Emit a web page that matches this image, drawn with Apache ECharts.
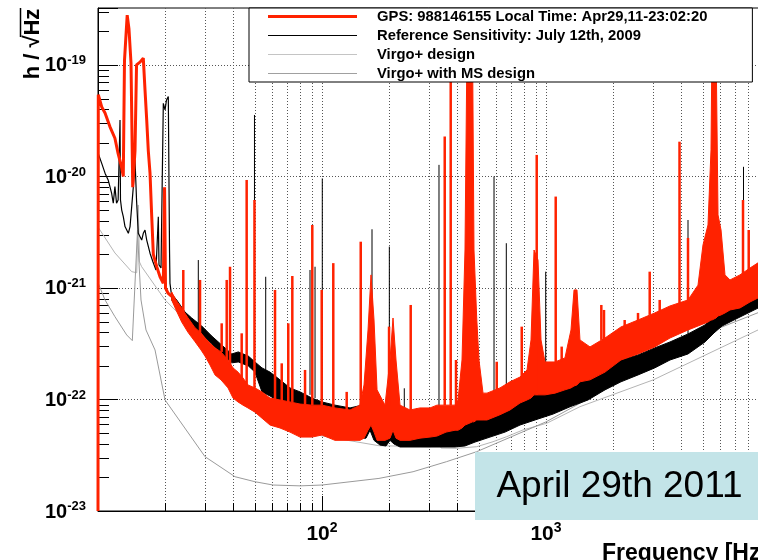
<!DOCTYPE html>
<html>
<head>
<meta charset="utf-8">
<title>Virgo+ sensitivity</title>
<script src="https://cdn.jsdelivr.net/npm/echarts@6.0.0/dist/echarts.min.js"></script>
<style>
    html, body { margin: 0; padding: 0; background: #fff; }
    #chart { width: 758px; height: 560px; }
</style>
</head>
<body>
<div id="chart"></div>
<script>
const FONT = 'Liberation Sans';

const redName = 'GPS: 988146155 Local Time: Apr29,11-23:02:20';
const refName = 'Reference Sensitivity: July 12th, 2009';
const virgoName = 'Virgo+ design';
const msName = 'Virgo+ with MS design';

// axis limits (Hz, strain/sqrt(Hz))
const freqLimits = [10, 10000];
const ampLimits = [1e-23, 3.24e-19];
const xLabelExps = [2, 3];
const yLabelExps = [-23, -22, -21, -20, -19];
const xMinorTicks = [20, 30, 40, 50, 60, 70, 80, 90, 200, 300, 400, 500, 600, 700, 800, 900,
    2000, 3000, 4000, 5000, 6000, 7000, 8000, 9000];
const yMinorTicks = [
    2e-23, 3e-23, 4e-23, 5e-23, 6e-23, 7e-23, 8e-23, 9e-23,
    2e-22, 3e-22, 4e-22, 5e-22, 6e-22, 7e-22, 8e-22, 9e-22,
    2e-21, 3e-21, 4e-21, 5e-21, 6e-21, 7e-21, 8e-21, 9e-21,
    2e-20, 3e-20, 4e-20, 5e-20, 6e-20, 7e-20, 8e-20, 9e-20,
    2e-19, 3e-19];

// GPS 988146155 spectrum, low frequency part
const redLowFreq = [10, 10.03, 10.39, 10.75, 11.3, 11.9, 12.3, 12.76, 12.97, 13.13, 13.5, 13.75, 14.04, 14.29,
    14.63, 14.86, 15.4, 15.93, 16.21, 16.5, 16.77, 17.07, 17.37, 17.66, 18.29, 18.92, 19.57, 19.82, 20.02, 20.54, 21.33];
const redLowAmp = [1e-23, 5.4e-20, 4.2e-20, 3.7e-20, 2.8e-20, 2.2e-20, 1.6e-20, 1.2e-20, 1.0e-20, 1.1e-19, 2.8e-19, 2.1e-19, 1.04e-19, 8.0e-21,
    1.7e-20, 1.0e-19, 1.06e-19, 1.15e-19, 6.0e-20, 3.2e-20, 1.7e-20, 1.07e-20, 4.4e-21, 2.0e-21, 1.55e-21, 1.26e-21, 1.1e-21, 8.0e-21, 1.0e-21, 9.0e-22, 8.4e-22];
// noise band (upper / lower edge)
const redBandFreq = [21.33, 22.3, 23.64, 25.22, 27.1, 28.83, 30.04, 31.62, 33.3, 35.4, 38.06, 40.07, 42.17, 44.4, 46.7,
    50.2, 53.96, 58.6, 64.94, 71.95, 79.8, 90.2, 100, 114.3, 133.4, 147.8, 154, 160.5, 165.5, 170.7,
    176.1, 191.1, 201.2, 207.5, 214, 223, 247, 273.8, 303.5, 326.1, 357.8, 392.5, 404.8, 421.7, 434.9,
    444.1, 469.8, 477, 490.5, 502.2, 523.4, 545.3, 623.2, 690.8, 765.7, 822.8, 857.2, 884.2, 921.2, 950,
    989.7, 1097, 1215, 1293, 1334, 1375, 1418, 1572, 1834, 2161, 2575, 3057, 3578, 4305, 4771,
    5022, 5287, 5453, 5510, 5741, 5861, 6045, 6297, 6629, 7347, 8143, 8840, 10000];
const redBandHi = [9.2e-22, 7.8e-22, 6.6e-22, 5.4e-22, 4.4e-22, 3.95e-22, 3.56e-22, 3.2e-22, 2.9e-22, 2.67e-22, 2.26e-22, 1.92e-22, 1.76e-22, 1.56e-22, 1.35e-22,
    1.27e-22, 1.17e-22, 1.03e-22, 9.9e-23, 9.5e-23, 9.1e-23, 8.9e-23, 8.9e-23, 8.4e-23, 8.05e-23, 8.9e-23, 1.35e-22, 4.2e-22, 1.31e-21, 5.16e-22,
    1.22e-22, 8.9e-23, 2.26e-22, 5.38e-22, 2.26e-22, 8.9e-23, 8.05e-23, 8.4e-23, 8.4e-23, 8.9e-23, 8.9e-23, 8.9e-23, 9.9e-23, 2.26e-22, 2.19e-21,
    1.7e-19, 1.7e-19, 2.19e-21, 5.38e-22, 2.26e-22, 1.14e-22, 1.14e-22, 1.27e-22, 1.44e-22, 1.59e-22, 1.84e-22, 3.42e-22, 2.19e-21, 1.78e-21, 3.42e-22,
    2.17e-22, 2.17e-22, 2.36e-22, 4.2e-22, 9.6e-22, 9.6e-22, 3.42e-22, 2.96e-22, 3.56e-22, 4.47e-22, 5.16e-22, 5.97e-22, 6.9e-22, 7.81e-22, 1.06e-21,
    2.43e-21, 3.67e-21, 1.73e-20, 1.7e-19, 1.7e-19, 4.52e-21, 3.31e-21, 1.31e-21, 1.18e-21, 1.31e-21, 1.51e-21, 1.68e-21, 1.86e-21];
const redBandLo = [7.8e-22, 6.35e-22, 4.95e-22, 4.0e-22, 3.3e-22, 2.78e-22, 2.45e-22, 2.04e-22, 1.66e-22, 1.5e-22, 1.27e-22, 1.03e-22, 9.5e-23, 8.9e-23, 8.4e-23,
    7.7e-23, 6.8e-23, 5.9e-23, 5.55e-23, 5.1e-23, 4.6e-23, 4.6e-23, 4.8e-23, 4.3e-23, 4.3e-23, 4.3e-23, 4.5e-23, 5.3e-23, 5.9e-23, 5.1e-23,
    4.3e-23, 4.3e-23, 4.5e-23, 5.3e-23, 4.5e-23, 4.3e-23, 4.3e-23, 4.5e-23, 4.6e-23, 4.7e-23, 5.1e-23, 5.3e-23, 5.3e-23, 5.55e-23, 5.9e-23,
    6.0e-23, 6.3e-23, 6.3e-23, 6.55e-23, 6.55e-23, 6.55e-23, 6.55e-23, 7.3e-23, 8.05e-23, 9.3e-23, 9.9e-23, 1.03e-22, 1.1e-22, 1.1e-22, 1.1e-22,
    1.1e-22, 1.14e-22, 1.22e-22, 1.27e-22, 1.32e-22, 1.35e-22, 1.44e-22, 1.5e-22, 1.76e-22, 2.26e-22, 2.56e-22, 2.96e-22, 3.56e-22, 4.2e-22, 4.56e-22,
    4.75e-22, 4.95e-22, 5.16e-22, 5.16e-22, 5.38e-22, 5.61e-22, 5.73e-22, 5.97e-22, 6.35e-22, 6.62e-22, 7.49e-22, 8.13e-22, 9.0e-22];
// lines (spikes): frequency, top, foot
const redSpikeFreq = [24.03, 28.54, 35.66, 37.55, 38.85, 43.8, 46.1, 49.95, 61.7, 66.1, 70.7, 73.7, 84.0, 90.5, 99.7, 112.3, 128.9, 148.9, 199.2,
    248.9, 353.1, 375.5, 396.5, 602.6, 779.2, 909, 1105, 1175, 1766, 1815, 2245, 2575, 2904, 3218, 3945, 4305, 7577, 8035];
const redSpikeTop = [1.45e-21, 1.18e-21, 4.82e-22, 1.18e-21, 1.55e-21, 3.92e-22, 9.3e-21, 6.15e-21, 9.6e-22, 2.11e-22, 4.82e-22, 1.28e-21, 1.84e-22, 3.67e-21, 9.6e-22, 1.67e-21, 1.17e-22, 2.6e-21, 4.5e-22,
    7.04e-22, 2.28e-20, 1.7e-19, 2.26e-22, 2.18e-22, 4.5e-22, 1.56e-20, 6.6e-21, 2.98e-22, 7.04e-22, 6.35e-22, 5.16e-22, 5.97e-22, 1.4e-21, 7.81e-22, 2.05e-20, 2.81e-21, 6.15e-21, 3.31e-21];
const redSpikeBase = [5.73e-22, 3.08e-22, 2.67e-22, 2.26e-22, 2.04e-22, 1.56e-22, 1.35e-22, 1.22e-22, 9.9e-23, 9.5e-23, 9.5e-23, 9.5e-23, 9.1e-23, 8.9e-23, 8.9e-23, 8.4e-23, 8.05e-23, 8.9e-23, 8.9e-23,
    8.05e-23, 8.9e-23, 8.9e-23, 8.9e-23, 1.22e-22, 1.59e-22, 1.1e-22, 2.17e-22, 2.17e-22, 3.42e-22, 3.42e-22, 4.2e-22, 4.95e-22, 5.73e-22, 6.09e-22, 7.04e-22, 7.81e-22, 1.31e-21, 1.45e-21];

// reference sensitivity July 12th 2009
const refLowFreq = [10.03, 10.39, 10.75, 11.1, 11.5, 11.7, 11.9, 12.1, 12.3, 12.47, 12.54, 12.6, 12.76, 12.97, 13.2, 13.66, 13.9, 14.14, 14.38, 14.63,
    14.86, 15.13, 15.67, 15.93, 16.21, 16.5, 17.07, 17.6, 18.15, 18.59, 18.72, 19.11, 19.57, 19.92, 20.22, 20.6, 20.86, 20.96, 21.33];
const refLowAmp = [1.6e-20, 1.31e-20, 1.07e-20, 9.3e-21, 7.1e-21, 5.75e-21, 8.1e-21, 5.75e-21, 6.15e-21, 6.15e-21, 3.2e-20, 6.15e-21, 5.0e-21, 4.36e-21, 3.55e-21, 3.09e-21, 3.55e-21, 5.36e-21, 8.1e-21, 1.41e-20,
    6.15e-21, 3.09e-21, 2.69e-21, 3.09e-21, 3.31e-21, 2.69e-21, 2.05e-21, 1.71e-21, 1.45e-21, 4.36e-21, 1.61e-21, 1.51e-21, 4.53e-20, 3.95e-20, 4.85e-20, 5.2e-20, 2.19e-21, 1.1e-21, 8.4e-22];
const refBandFreq = [21.33, 22.46, 24.45, 26.2, 29.04, 32.18, 35.66, 39.54, 42.3, 46.88, 50.2, 53.96, 58.6, 64.94, 71.95, 79.8, 90.2, 100,
    114.3, 133.4, 150.9, 157.2, 163.8, 170.7, 181.5, 193.1, 201.2, 209.6, 223, 273.8, 326.1, 392.5, 434.9, 482, 562.3, 656.1,
    765.7, 893.4, 1075, 1280, 1540, 1834, 2161, 2575, 3057, 3578, 4305, 5126, 5623, 6107, 7196, 8840, 10000];
const refBandHi = [8.84e-22, 7.81e-22, 6.09e-22, 5.38e-22, 4.56e-22, 3.71e-22, 3.08e-22, 2.56e-22, 2.67e-22, 2.45e-22, 2.17e-22, 1.92e-22, 1.76e-22, 1.5e-22, 1.27e-22, 1.17e-22, 1.03e-22, 9.5e-23,
    8.9e-23, 8.4e-23, 8.9e-23, 1.1e-22, 1.66e-22, 1.1e-22, 6.8e-23, 8.05e-23, 1.35e-22, 9.9e-23, 6.3e-23, 6.3e-23, 6.55e-23, 6.8e-23, 6.8e-23, 7.4e-23, 8.4e-23, 9.5e-23,
    1.1e-22, 1.22e-22, 1.35e-22, 1.44e-22, 1.59e-22, 1.92e-22, 2.26e-22, 2.51e-22, 2.9e-22, 3.28e-22, 3.87e-22, 4.66e-22, 5.73e-22, 6.09e-22, 7.34e-22, 9.21e-22, 1.02e-21];
const refBandLo = [7.81e-22, 6.62e-22, 5.16e-22, 4.38e-22, 3.87e-22, 3.15e-22, 2.56e-22, 2.13e-22, 2.17e-22, 2.0e-22, 1.76e-22, 1.17e-22, 1.075e-22, 9.5e-23, 7.3e-23, 6.55e-23, 5.9e-23, 5.3e-23,
    4.8e-23, 4.5e-23, 4.5e-23, 4.5e-23, 5.3e-23, 4.3e-23, 3.9e-23, 3.83e-23, 4.3e-23, 3.99e-23, 3.75e-23, 3.75e-23, 3.75e-23, 3.75e-23, 3.83e-23, 4.15e-23, 4.6e-23, 5.1e-23,
    5.9e-23, 6.55e-23, 7.4e-23, 8.6e-23, 9.9e-23, 1.22e-22, 1.44e-22, 1.66e-22, 1.92e-22, 2.26e-22, 2.56e-22, 3.28e-22, 3.95e-22, 4.56e-22, 5.38e-22, 6.6e-22, 7.2e-22];
const refSpikeFreq = [28.04, 49.95, 56.07, 88.4, 93.1, 100.3, 167.2, 199.8, 233, 264.8, 332.9, 586.1, 665, 997, 4305, 7616];
const refSpikeTop = [1.78e-21, 3.56e-20, 1.26e-21, 1.45e-21, 1.55e-21, 9.6e-21, 3.36e-21, 2.35e-21, 1.26e-22, 8.3e-23, 1.27e-20, 1.0e-20, 2.52e-21, 1.4e-21, 4.07e-21, 1.22e-20];
const refSpikeBase = [4.2e-22, 1.84e-22, 1.5e-22, 1.1e-22, 1.03e-22, 9.5e-23, 9.9e-23, 8.05e-23, 6.55e-23, 6.3e-23, 6.55e-23, 8.4e-23, 9.5e-23, 1.22e-22, 3.87e-22, 7.34e-22];

// design curves
const virgoFreq = [10, 11.9, 14.14, 14.89, 15.13, 15.32, 15.67, 19.92, 30.04, 40.2, 50.2, 69.8, 100, 179.6,
    303.5, 323, 331, 340, 399, 490, 580, 668, 789, 1007, 1418, 3013, 8840, 10000];
const virgoAmp = [3.52e-21, 2.06e-21, 1.4e-21, 1.37e-21, 5.55e-21, 1.71e-21, 1.55e-21, 7.81e-22, 3.42e-22, 1.6e-22, 9.9e-23, 5.67e-23, 4.71e-23, 3.85e-23,
    3.77e-23, 3.83e-23, 5.1e-23, 3.67e-23, 3.65e-23, 3.77e-23, 4.18e-23, 4.64e-23, 5.33e-23, 6.12e-23, 8.62e-23, 1.5e-22, 4.2e-22, 4.7e-22];
const msFreq = [10.03, 10.75, 11.9, 13.43, 14.23, 15.01, 15.24, 15.56, 16.38, 17.97, 19.92, 30.04, 40.9, 50.2,
    60.5, 79.8, 100, 179.6, 255, 360, 490, 1000, 2000, 4000, 5983, 8840, 10000];
const msAmp = [1.1e-21, 7.8e-22, 5.53e-22, 3.79e-22, 3.37e-22, 3.31e-21, 1.68e-21, 7.8e-22, 4.2e-22, 2.78e-22, 9.9e-23, 3.07e-23, 2.03e-23, 1.83e-23,
    1.71e-23, 1.68e-23, 1.71e-23, 1.96e-23, 2.25e-23, 2.77e-23, 3.4e-23, 6.3e-23, 1.35e-22, 3.15e-22, 4.4e-22, 6.0e-22, 6.5e-22];

const RED = '#ff2200';
const BLACK = '#000000';
const lg = Math.log10;

function toPoints(freqs, amps) {
    return freqs.map(function (f, i) { return [lg(f), lg(amps[i])]; });
}

function lineSeries(name, freqs, amps, color, width, z) {
    return {
        name: name, type: 'line', z: z, silent: true,
        symbol: 'none', data: toPoints(freqs, amps),
        lineStyle: {color: color, width: width},
        itemStyle: {color: color}
    };
}

// noise band drawn as a filled polygon between upper and lower edge
function bandSeries(name, freqs, hi, lo, color, z) {
    return {
        name: name, type: 'custom', z: z, clip: true, silent: true,
        itemStyle: {color: color},
        data: [[lg(freqs[0]), lg(hi[0])]],
        renderItem: function (params, api) {
            const upper = freqs.map(function (f, i) { return api.coord([lg(f), lg(hi[i])]); });
            const lower = freqs.map(function (f, i) { return api.coord([lg(f), lg(lo[i])]); }).reverse();
            return {
                type: 'polygon',
                shape: {points: upper.concat(lower)},
                style: {fill: color, stroke: color, lineWidth: 1}
            };
        }
    };
}

function spikeSeries(name, freqs, tops, bases, color, width, z) {
    return {
        name: name, type: 'custom', z: z, clip: true, silent: true,
        itemStyle: {color: color},
        data: [[lg(freqs[0]), lg(tops[0])]],
        renderItem: function (params, api) {
            return {
                type: 'group',
                children: freqs.map(function (f, i) {
                    const p1 = api.coord([lg(f), lg(bases[i])]);
                    const p2 = api.coord([lg(f), lg(tops[i])]);
                    return {
                        type: 'line',
                        shape: {x1: p1[0], y1: p1[1], x2: p2[0], y2: p2[1]},
                        style: {stroke: color, lineWidth: width}
                    };
                })
            };
        }
    };
}

// minor ticks and dotted grid of the log axes
const minorSeries = {
    type: 'custom', z: 1, silent: true,
    data: [[lg(freqLimits[0]), lg(ampLimits[0])]],
    renderItem: function (params, api) {
        const cs = params.coordSys;
        const top = cs.y, bottom = cs.y + cs.height, left = cs.x;
        const children = [];
        xMinorTicks.forEach(function (v) {
            const x = Math.round(api.coord([lg(v), lg(ampLimits[0])])[0]) + 0.5;
            children.push({type: 'line', shape: {x1: x, y1: top, x2: x, y2: bottom},
                style: {stroke: '#555', lineWidth: 1, lineDash: [1, 2]}});
            children.push({type: 'line', shape: {x1: x, y1: bottom, x2: x, y2: bottom - 8},
                style: {stroke: '#000', lineWidth: 1}});
        });
        yMinorTicks.forEach(function (v) {
            const y = Math.round(api.coord([lg(freqLimits[0]), lg(v)])[1]) + 0.5;
            children.push({type: 'line', shape: {x1: left, y1: y, x2: left + 11, y2: y},
                style: {stroke: '#000', lineWidth: 1}});
        });
        return {type: 'group', children: children};
    }
};

function isExp(v, list) {
    return list.some(function (e) { return Math.abs(v - e) < 1e-6; });
}

const option = {
    animation: false,
    backgroundColor: '#ffffff',
    grid: {
        left: 98, top: 8, right: -12, bottom: 49,
        outerBoundsMode: 'none',
        show: true, borderColor: '#000', borderWidth: 1, backgroundColor: 'rgba(0,0,0,0)'
    },
    xAxis: {
        type: 'value', min: lg(freqLimits[0]), max: lg(freqLimits[1]), interval: 1,
        axisLine: {show: true, lineStyle: {color: '#000', width: 1}},
        axisTick: {show: true, inside: true, length: 15, lineStyle: {color: '#000'}},
        splitLine: {show: true, showMinLine: false, showMaxLine: false, lineStyle: {color: '#555', type: [1, 2]}},
        axisLabel: {
            margin: 10,
            formatter: function (v) {
                return isExp(v, xLabelExps) ? '{b|10}{s|' + Math.round(v) + '}' : '';
            },
            rich: {
                b: {fontFamily: FONT, fontSize: 21, fontWeight: 'bold', color: '#000', lineHeight: 24, verticalAlign: 'bottom'},
                s: {fontFamily: FONT, fontSize: 14, fontWeight: 'bold', color: '#000', lineHeight: 14, verticalAlign: 'top'}
            }
        }
    },
    yAxis: {
        type: 'value', min: lg(ampLimits[0]), max: lg(ampLimits[1]), interval: 1,
        axisLine: {show: true, lineStyle: {color: '#000', width: 1}},
        axisTick: {show: true, inside: true, length: 20, lineStyle: {color: '#000'}},
        splitLine: {show: true, showMinLine: false, showMaxLine: false, lineStyle: {color: '#555', type: [1, 2]}},
        axisLabel: {
            margin: 53, align: 'left',
            formatter: function (v) {
                return isExp(v, yLabelExps) ? '{b|10}{s|' + Math.round(v) + '}' : '';
            },
            rich: {
                b: {fontFamily: FONT, fontSize: 20, fontWeight: 'bold', color: '#000', lineHeight: 22, verticalAlign: 'bottom'},
                s: {fontFamily: FONT, fontSize: 13, fontWeight: 'bold', color: '#000', lineHeight: 13, verticalAlign: 'top'}
            }
        }
    },
    legend: {
        orient: 'vertical', left: 249, top: 8, z: 20,
        padding: [1, 45, 1, 19], itemWidth: 89, itemHeight: 12, itemGap: 4,
        backgroundColor: '#fff', borderColor: '#000', borderWidth: 1, selectedMode: false,
        textStyle: {fontFamily: FONT, fontSize: 14.8, fontWeight: 'bold', color: '#000', padding: [0, 0, 0, 15]},
        data: [
            {name: redName, icon: 'path://M0,0H89V3H0Z', itemStyle: {color: RED}},
            {name: refName, icon: 'path://M0,0H89V1H0Z', itemStyle: {color: BLACK}},
            {name: virgoName, icon: 'path://M0,0H89V1H0Z', itemStyle: {color: '#c4c4c4'}},
            {name: msName, icon: 'path://M0,0H89V1H0Z', itemStyle: {color: '#a0a0a0'}}
        ]
    },
    graphic: [
        {type: 'text', x: 33, y: 44, rotation: Math.PI / 2,
            style: {text: 'h / \u221AHz', font: 'bold 22px "' + FONT + '"', fill: '#000', align: 'center', verticalAlign: 'middle'}},
        {type: 'line', shape: {x1: 20.5, y1: 8, x2: 20.5, y2: 37}, style: {stroke: '#000', lineWidth: 1.5}},
        {type: 'text', x: 602, y: 554,
            style: {text: 'Frequency [Hz]', font: 'bold 23px "' + FONT + '"', fill: '#000', align: 'left', verticalAlign: 'middle'}},
        {type: 'rect', z: 100, shape: {x: 475, y: 452, width: 290, height: 68}, style: {fill: '#c3e4e8'}},
        {type: 'text', z: 101, x: 619.5, y: 487,
            style: {text: 'April 29th 2011', font: '37px "' + FONT + '"', fill: '#000', align: 'center', verticalAlign: 'middle'}}
    ],
    series: [
        minorSeries,
        lineSeries(virgoName, virgoFreq, virgoAmp, '#b4b4b4', 1, 2),
        lineSeries(msName, msFreq, msAmp, '#9a9a9a', 1, 2),
        lineSeries(refName, refLowFreq, refLowAmp, BLACK, 1.2, 3),
        bandSeries(refName, refBandFreq, refBandHi, refBandLo, BLACK, 3),
        spikeSeries(refName, refSpikeFreq, refSpikeTop, refSpikeBase, BLACK, 1, 3),
        lineSeries(redName, redLowFreq, redLowAmp, RED, 3, 4),
        bandSeries(redName, redBandFreq, redBandHi, redBandLo, RED, 4),
        spikeSeries(redName, redSpikeFreq, redSpikeTop, redSpikeBase, RED, 2.5, 4)
    ]
};

const myChart = echarts.init(document.getElementById('chart'));
myChart.setOption(option);
</script>
</body>
</html>
